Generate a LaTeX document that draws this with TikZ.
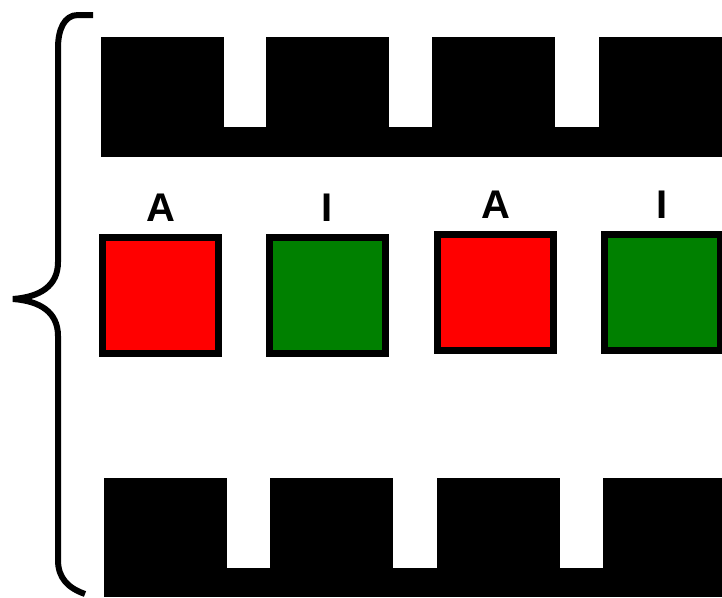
\documentclass[tikz,border=0pt]{standalone}
\usepackage{fontspec}
\setmainfont{Liberation Sans}
\usetikzlibrary{positioning}

\definecolor{CellRed}{HTML}{FF0000}
\definecolor{CellGreen}{HTML}{008000}

\begin{document}
\begin{tikzpicture}[x=1pt, y=-1pt,
  cell/.style={draw=black, line width=7pt, minimum size=116pt, inner sep=0pt},
  tag/.style={inner sep=0pt, font=\fontsize{40}{40}\selectfont\bfseries},
  comb/.style={fill=black}]
  \clip (0,0) rectangle (722,597);
  \fill[white] (0,0) rectangle (722,597);

  % upper comb, teeth pointing down
  \fill[comb] (101,127) rectangle (722,157);
  \foreach \x in {101,266,432,599}
    \fill[comb] (\x,37) rectangle ++(123,90);

  % lower comb, teeth pointing up
  \fill[comb] (104,568) rectangle (722,597);
  \foreach \x in {104,270,437,603}
    \fill[comb] (\x,478) rectangle ++(123,90);

  % the cells in between
  \node[cell, fill=CellRed]   (act1) at (160.5,295) {};
  \node[cell, fill=CellGreen] (ina1) at (327,295) {};
  \node[cell, fill=CellRed]   (act2) at (495.5,292.5) {};
  \node[cell, fill=CellGreen] (ina2) at (662.5,292.5) {};
  \node[tag, above=12pt of act1] (lbla1) {A};
  \node[tag, above=12pt of ina1] (lbli1) {I};
  \node[tag, above=12pt of act2] (lbla2) {A};
  \node[tag, above=12pt of ina2] (lbli2) {I};

  % brace on the left
  \draw[line width=6pt]
    (93,15) -- (78,15) .. controls (64,15) and (58,30) .. (58,48)
    -- (58,262) .. controls (58,286) and (40,297) .. (13,299)
    .. controls (40,301) and (58,312) .. (58,336)
    -- (58,560) .. controls (58,578) and (68,588) .. (85,594);
\end{tikzpicture}
\end{document}
